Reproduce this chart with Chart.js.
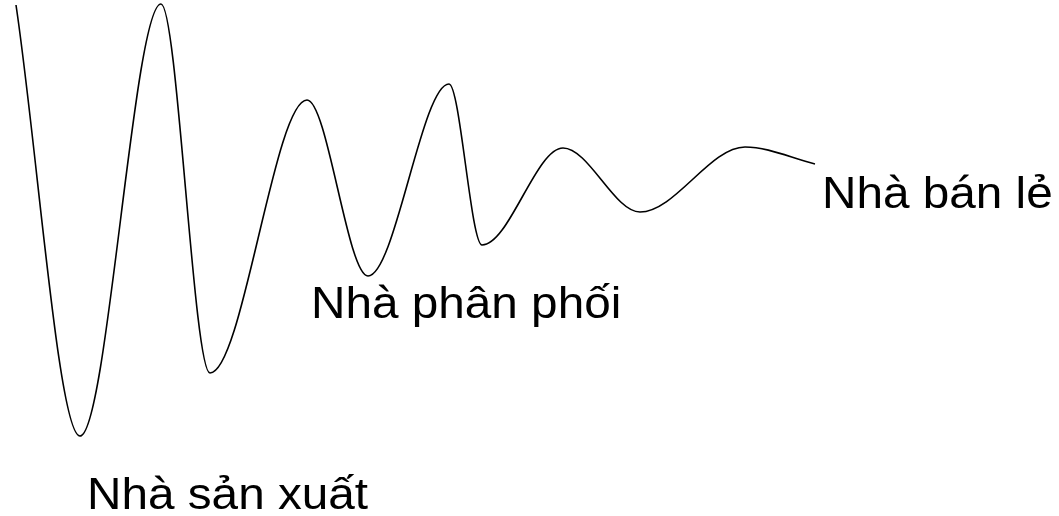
<!DOCTYPE html>
<html>
<head>
<meta charset="utf-8">
<script src="https://cdn.jsdelivr.net/npm/chart.js@4"></script>
<style>
  html, body { margin: 0; padding: 0; background: #fff; }
  #wrap { width: 1059px; height: 516px; }
</style>
</head>
<body>
<div id="wrap"><canvas id="chart"></canvas></div>
<script>
// time along the chain and order swing (turning points of the wave)
const times = [16, 80, 161, 210, 307, 368, 449, 482, 563, 640, 745, 815];
const swing = [511, 80, 512, 143, 416, 240, 432, 271, 368, 304, 369, 352];

// stage names and where they sit on the same scales
const stages = ["Nhà sản xuất", "Nhà phân phối", "Nhà bán lẻ"];
const stageX = [87, 311, 822];
const stageY = [7, 198, 308];

const points = times.map((t, i) => ({ x: t, y: swing[i] }));

const stageLabels = {
  id: 'stageLabels',
  afterDraw(chart) {
    const ctx = chart.ctx;
    const xs = chart.scales.x;
    const ys = chart.scales.y;
    ctx.save();
    ctx.fillStyle = '#000';
    ctx.font = '45px "Liberation Sans", Arial, sans-serif';
    ctx.textAlign = 'left';
    ctx.textBaseline = 'alphabetic';
    stages.forEach((s, i) => {
      ctx.save();
      ctx.translate(xs.getPixelForValue(stageX[i]), ys.getPixelForValue(stageY[i]));
      ctx.scale(1.06, 1); // source text is a bit wider than plain Arial
      ctx.fillText(s, 0, 0);
      ctx.restore();
    });
    ctx.restore();
  }
};

new Chart(document.getElementById('chart'), {
  type: 'line',
  data: {
    datasets: [{
      data: points,
      borderColor: '#000',
      borderWidth: 1.6,
      pointRadius: 0,
      fill: false,
      cubicInterpolationMode: 'monotone',
      clip: false
    }]
  },
  options: {
    responsive: true,
    maintainAspectRatio: false,
    animation: false,
    layout: { padding: 0 },
    plugins: { legend: { display: false }, tooltip: { enabled: false } },
    scales: {
      x: { type: 'linear', min: 0, max: 1059, display: false },
      y: { type: 'linear', min: 0, max: 516, display: false }
    }
  },
  plugins: [stageLabels]
});
</script>
</body>
</html>
